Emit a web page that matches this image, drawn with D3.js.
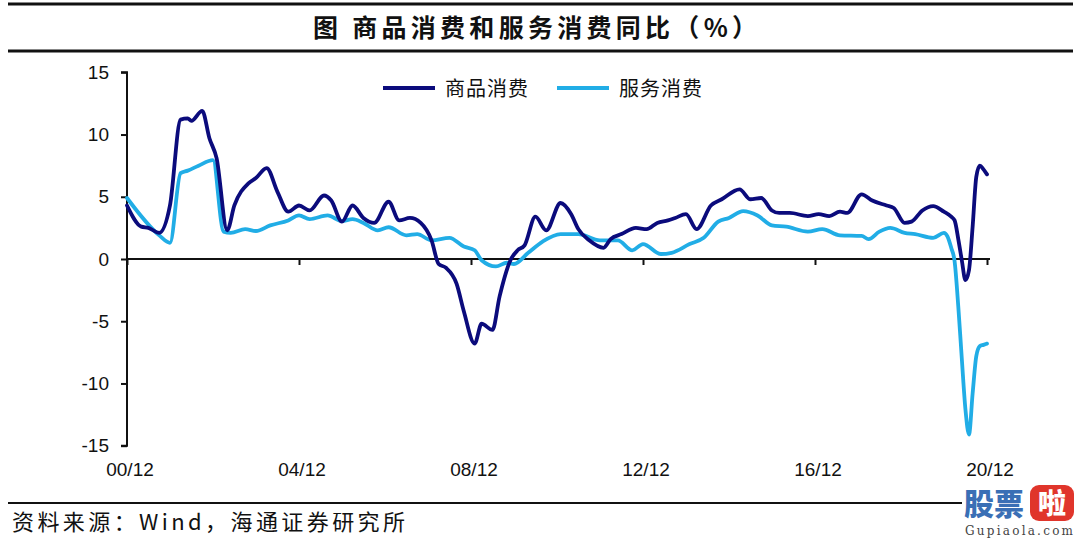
<!DOCTYPE html>
<html>
<head>
<meta charset="utf-8">
<script src="https://cdn.jsdelivr.net/npm/d3@7"></script>
<style>
  html, body { margin: 0; padding: 0; background: #ffffff; }
  svg { display: block; }
</style>
</head>
<body>
<svg id="chart" width="1080" height="538"></svg>
<script>
// ---------- data ----------
const titleText = "图  商品消费和服务消费同比（%）";
const sourceText = "资料来源：Wind，海通证券研究所";
const seriesNames = ["商品消费", "服务消费"];
const yTicks = [15, 10, 5, 0, -5, -10, -15];
const xTickDates = ["2000-12", "2004-12", "2008-12", "2012-12", "2016-12", "2020-12"];
const xTickLabels = ["00/12", "04/12", "08/12", "12/12", "16/12", "20/12"];

const goodsDates = [
  "2000-12","2001-04","2001-06","2001-09","2001-12","2002-03","2002-05","2002-06","2002-09","2002-11",
  "2003-01","2003-04","2003-06","2003-10","2003-12","2004-03","2004-06","2004-09","2004-12","2005-03",
  "2005-07","2005-09","2005-12","2006-03","2006-06","2006-09","2007-01","2007-04","2007-07","2007-10",
  "2008-01","2008-03","2008-05","2008-08","2008-10","2009-01","2009-03","2009-06","2009-08","2009-11",
  "2010-01","2010-03","2010-06","2010-09","2011-01","2011-04","2011-06","2011-09","2012-01","2012-03",
  "2012-06","2012-10","2013-01","2013-04","2013-07","2013-09","2013-12","2014-03","2014-07","2014-10",
  "2015-03","2015-06","2015-09","2015-12","2016-02","2016-05","2016-10","2017-01","2017-04","2017-07",
  "2017-09","2018-01","2018-04","2018-08","2018-10","2019-01","2019-03","2019-06","2019-09","2019-12",
  "2020-02","2020-03","2020-04","2020-05","2020-06","2020-07","2020-08","2020-09","2020-10","2020-11","2020-12"
];
const goodsValues = [
  4.3, 2.6, 2.5, 2.1, 4.3, 11.2, 11.3, 11.1, 11.9, 9.7,
  8.1, 2.3, 4.3, 6.1, 6.5, 7.3, 5.4, 3.8, 4.3, 3.9,
  5.1, 4.7, 3.0, 4.3, 3.3, 2.9, 4.6, 3.1, 3.3, 2.9,
  1.5, -0.4, -0.7, -2.0, -4.2, -6.8, -5.2, -5.7, -3.0, -0.1,
  0.7, 1.1, 3.4, 2.3, 4.5, 3.6, 2.4, 1.5, 0.9, 1.6,
  2.0, 2.5, 2.4, 2.9, 3.1, 3.3, 3.6, 2.4, 4.3, 4.8,
  5.6, 4.8, 4.9, 3.9, 3.7, 3.7, 3.45, 3.6, 3.45, 3.8,
  3.7, 5.2, 4.7, 4.3, 4.1, 2.9, 3.0, 3.9, 4.25, 3.8,
  3.4, 3.1, 1.6, -0.1, -1.7, -0.9, 2.6, 6.6, 7.5, 7.2, 6.8
];

const serviceDates = [
  "2000-12","2001-09","2001-12","2002-03","2002-05","2002-08","2002-12","2003-03","2003-05","2003-09",
  "2003-12","2004-04","2004-09","2004-12","2005-03","2005-08","2005-12","2006-03","2006-06","2006-10",
  "2007-01","2007-06","2007-09","2008-01","2008-06","2008-10","2009-01","2009-03","2009-07","2009-10",
  "2009-12","2010-04","2010-08","2011-01","2011-06","2011-12","2012-05","2012-09","2012-12","2013-05",
  "2013-08","2014-01","2014-05","2014-09","2014-12","2015-04","2015-08","2015-12","2016-04","2016-10",
  "2017-02","2017-07","2018-01","2018-03","2018-06","2018-09","2019-01","2019-04","2019-09","2019-12",
  "2020-01","2020-02","2020-03","2020-04","2020-05","2020-06","2020-07","2020-08","2020-09","2020-10","2020-11","2020-12"
];
const serviceValues = [
  4.9, 1.9, 1.3, 6.9, 7.1, 7.5, 7.95, 2.2, 2.1, 2.4,
  2.25, 2.7, 3.1, 3.5, 3.2, 3.5, 3.05, 3.2, 2.9, 2.3,
  2.55, 1.9, 2.0, 1.5, 1.7, 1.0, 0.7, -0.1, -0.6, -0.3,
  -0.4, 0.5, 1.4, 2.0, 2.0, 1.5, 1.5, 0.7, 1.2, 0.4,
  0.5, 1.2, 1.7, 3.0, 3.3, 3.85, 3.5, 2.7, 2.6, 2.2,
  2.4, 1.9, 1.85, 1.6, 2.2, 2.5, 2.1, 2.0, 1.7, 2.1,
  1.8, 0.9, -0.2, -3.8, -8.0, -12.1, -14.1, -10.8, -7.8, -7.0, -6.9, -6.8
];

// ---------- styles ----------
const goodsColor = "#0b0b7c";
const serviceColor = "#21ade6";
const cjk = "'Noto Sans CJK SC', 'Noto Sans', sans-serif";
const latin = "'Liberation Sans', Arial, sans-serif";

const parse = d3.timeParse("%Y-%m");
const svg = d3.select("#chart");

// plot geometry
const plotLeft = 127, plotRight = 987, plotTop = 72.3, plotBottom = 445.7;

const x = d3.scaleTime()
  .domain([parse("2000-12"), parse("2020-12")])
  .range([plotLeft, plotRight]);
const y = d3.scaleLinear().domain([-15, 15]).range([plotBottom, plotTop]);

// ---------- title block ----------
svg.append("line").attr("x1", 8).attr("x2", 1073).attr("y1", 4).attr("y2", 4)
  .attr("stroke", "#111").attr("stroke-width", 3);
svg.append("line").attr("x1", 8).attr("x2", 1073).attr("y1", 51).attr("y2", 51)
  .attr("stroke", "#111").attr("stroke-width", 3);
svg.append("text")
  .attr("x", 313).attr("y", 37)
  .attr("textLength", 444).attr("lengthAdjust", "spacing")
  .style("font-family", cjk).style("font-size", "25px").style("font-weight", "bold")
  .attr("fill", "#111")
  .text(titleText);

// ---------- axes ----------
const yAxis = d3.axisLeft(y).tickValues(yTicks).tickSize(6).tickPadding(12)
  .tickFormat((d) => String(d));
const gy = svg.append("g").attr("transform", `translate(${plotLeft},0)`).call(yAxis);
gy.select(".domain").attr("stroke", "#111").attr("stroke-width", 2)
  .attr("d", `M-6,${plotTop}H0V${plotBottom}H-6`);
gy.selectAll(".tick line").attr("stroke", "#111").attr("stroke-width", 2);
gy.selectAll(".tick text")
  .style("font-family", latin).style("font-size", "19px").attr("fill", "#111");

const xAxis = d3.axisBottom(x).tickValues(xTickDates.map(parse)).tickSize(6).tickFormat("");
const gx = svg.append("g").attr("transform", `translate(0,${y(0)})`).call(xAxis);
gx.select(".domain").attr("stroke", "#111").attr("stroke-width", 2)
  .attr("d", `M${plotLeft},0H${plotRight + 3}`);
gx.selectAll(".tick line").attr("stroke", "#111").attr("stroke-width", 2);

// x labels at the bottom
svg.append("g").selectAll("text")
  .data(xTickDates)
  .join("text")
  .attr("x", (d) => x(parse(d)) + 3)
  .attr("y", 476)
  .attr("text-anchor", "middle")
  .style("font-family", latin).style("font-size", "19px").attr("fill", "#111")
  .text((d, i) => xTickLabels[i]);

// ---------- lines ----------
const line = d3.line()
  .x((d) => x(d.date))
  .y((d) => y(d.value))
  .curve(d3.curveMonotoneX);

const goods = goodsDates.map((d, i) => ({ date: parse(d), value: goodsValues[i] }));
const service = serviceDates.map((d, i) => ({ date: parse(d), value: serviceValues[i] }));

svg.append("path").datum(service)
  .attr("d", line).attr("fill", "none")
  .attr("stroke", serviceColor).attr("stroke-width", 3.8)
  .attr("stroke-linejoin", "round").attr("stroke-linecap", "round");
svg.append("path").datum(goods)
  .attr("d", line).attr("fill", "none")
  .attr("stroke", goodsColor).attr("stroke-width", 3.8)
  .attr("stroke-linejoin", "round").attr("stroke-linecap", "round");

// ---------- legend ----------
const legendItems = [
  { name: seriesNames[0], color: goodsColor, x0: 383 },
  { name: seriesNames[1], color: serviceColor, x0: 557 }
];
const lg = svg.append("g");
legendItems.forEach((it) => {
  lg.append("line").attr("x1", it.x0).attr("x2", it.x0 + 52)
    .attr("y1", 88).attr("y2", 88)
    .attr("stroke", it.color).attr("stroke-width", 3.8);
  lg.append("text").attr("x", it.x0 + 62).attr("y", 96)
    .attr("textLength", 83).attr("lengthAdjust", "spacing")
    .style("font-family", cjk).style("font-size", "20px").attr("fill", "#111")
    .text(it.name);
});

// ---------- source ----------
svg.append("line").attr("x1", 8).attr("x2", 1073).attr("y1", 503).attr("y2", 503)
  .attr("stroke", "#111").attr("stroke-width", 2);
svg.append("text").attr("x", 12).attr("y", 530)
  .attr("textLength", 393).attr("lengthAdjust", "spacing")
  .style("font-family", cjk).style("font-size", "22px").attr("fill", "#111")
  .text(sourceText);

// ---------- watermark ----------
const wm = svg.append("g");
wm.append("rect").attr("x", 962).attr("y", 484).attr("width", 116).attr("height", 54).attr("fill", "#fff");
wm.append("text").attr("x", 964).attr("y", 515)
  .style("font-family", cjk).style("font-size", "30px").style("font-weight", "900")
  .attr("fill", "#3a6fb5").text("股票");
wm.append("rect").attr("x", 1030).attr("y", 485).attr("width", 44).attr("height", 36).attr("rx", 9)
  .attr("fill", "#e0352b");
wm.append("text").attr("x", 1052).attr("y", 514).attr("text-anchor", "middle")
  .style("font-family", cjk).style("font-size", "28px").style("font-weight", "900")
  .attr("fill", "#fff").text("啦");
wm.append("text").attr("x", 1019).attr("y", 535).attr("text-anchor", "middle")
  .attr("textLength", 108).attr("lengthAdjust", "spacing")
  .style("font-family", "'DejaVu Serif', serif").style("font-size", "12px")
  .attr("fill", "#444").text("Gupiaola.com");
</script>
</body>
</html>
